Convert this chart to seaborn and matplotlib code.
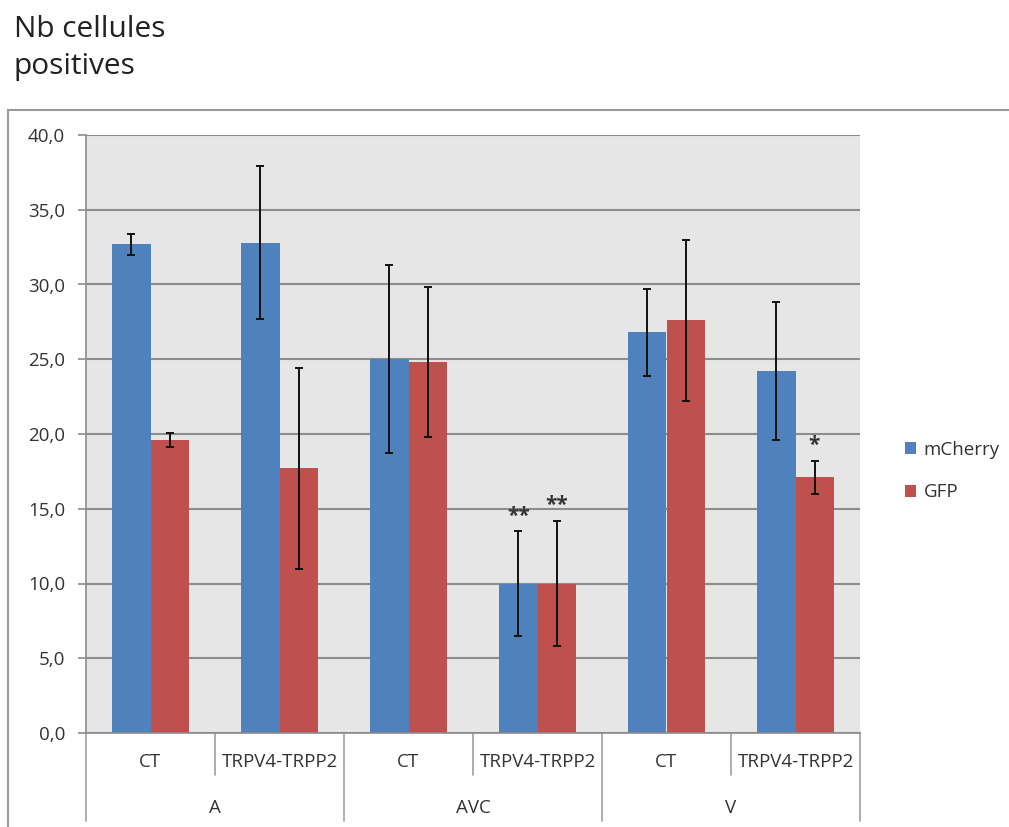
import matplotlib
matplotlib.use("Agg")
import matplotlib.pyplot as plt
import matplotlib.transforms as mtransforms
from matplotlib.patches import Rectangle, Patch
from matplotlib.ticker import FuncFormatter, MultipleLocator
import pandas as pd
import seaborn as sns

# values
groups = ["A", "A", "AVC", "AVC", "V", "V"]
conditions = ["CT", "TRPV4-TRPP2", "CT", "TRPV4-TRPP2", "CT", "TRPV4-TRPP2"]
mcherry_mean = [32.7, 32.8, 25.0, 10.0, 26.8, 24.2]
mcherry_err = [0.7, 5.1, 6.3, 3.5, 2.9, 4.6]
gfp_mean = [19.6, 17.7, 24.8, 10.0, 27.6, 17.1]
gfp_err = [0.5, 6.7, 5.0, 4.2, 5.4, 1.1]
mcherry_sig = ["", "", "", "**", "", ""]
gfp_sig = ["", "", "", "**", "", "*"]
series = ["mCherry", "GFP"]
colors = ["#4F81BD", "#C0504D"]

slots = [f"{g}|{c}" for g, c in zip(groups, conditions)]
df = pd.concat([
    pd.DataFrame({"slot": slots, "marqueur": series[0], "valeur": mcherry_mean,
                  "err": mcherry_err, "sig": mcherry_sig}),
    pd.DataFrame({"slot": slots, "marqueur": series[1], "valeur": gfp_mean,
                  "err": gfp_err, "sig": gfp_sig}),
], ignore_index=True)

sns.set_theme(style="white")
plt.rcParams['font.family'] = ['Open Sans', 'DejaVu Sans']
TXT = "#333333"
FS = 13.5

W, H = 1009, 827
fig = plt.figure(figsize=(W / 100, H / 100), dpi=100)
ax = fig.add_axes([86 / W, 1 - 733 / H, (860 - 86) / W, (733 - 135) / H])
ax.set_facecolor("#e6e6e6")

sns.barplot(data=df, x="slot", y="valeur", hue="marqueur", order=slots,
            hue_order=series, palette=colors, width=0.59, gap=0,
            errorbar=None, saturation=1, linewidth=0, ax=ax, zorder=2)

# error bars and significance marks placed on the bars seaborn drew
for cont, name in zip(ax.containers, series):
    sub = df[df["marqueur"] == name].reset_index(drop=True)
    xs = [b.get_x() + b.get_width() / 2 for b in cont]
    ax.errorbar(xs, sub["valeur"], yerr=sub["err"], fmt="none", ecolor="#111111",
                elinewidth=1.4, capsize=3, capthick=1.4, zorder=3)
    for x, v, e, s in zip(xs, sub["valeur"], sub["err"], sub["sig"]):
        if s:
            ax.text(x, v + e + 0.3, s, ha="center", va="bottom",
                    fontsize=15, fontweight="bold", color=TXT, zorder=4)

ax.set_ylim(0, 40)
ax.set_xlim(-0.5, len(slots) - 0.5)
ax.yaxis.set_major_locator(MultipleLocator(5))
ax.yaxis.set_major_formatter(FuncFormatter(lambda v, _: f"{v:.1f}".replace(".", ",")))
ax.yaxis.grid(True, color="#8c8c8c", linewidth=1.5)
ax.set_axisbelow(True)
ax.tick_params(axis="y", left=True, length=6, width=1.2, color="#8c8c8c",
               labelsize=FS, labelcolor=TXT, pad=9)
ax.tick_params(axis="x", bottom=False, labelbottom=False)
ax.set_xlabel("")
ax.set_ylabel("")
for side in ["top", "right"]:
    ax.spines[side].set_visible(False)
for side in ["left", "bottom"]:
    ax.spines[side].set_color("#8c8c8c")
    ax.spines[side].set_linewidth(1.2)

# two-level category axis
trans = mtransforms.blended_transform_factory(ax.transData, ax.transAxes)
for i, c in enumerate(conditions):
    ax.text(i, -0.049, c, transform=trans, ha="center", va="center",
            fontsize=FS, color=TXT)
for i in range(0, len(slots), 2):
    ax.text(i + 0.5, -0.126, groups[i], transform=trans, ha="center",
            va="center", fontsize=FS, color=TXT)
    ax.plot([i + 0.5, i + 0.5], [0, -0.070], transform=trans, color="#a0a0a0",
            lw=1.2, clip_on=False)
for b in range(-1, len(slots), 2):
    ax.plot([b + 0.5, b + 0.5], [0, -0.147], transform=trans, color="#a0a0a0",
            lw=1.2, clip_on=False)

# legend
handles = [Patch(facecolor=c, edgecolor="none", label=n) for c, n in zip(colors, series)]
if ax.get_legend() is not None:
    ax.get_legend().remove()
fig.legend(handles=handles, loc="center left", bbox_to_anchor=(888 / W, 1 - 471 / H),
           frameon=False, fontsize=FS, handlelength=0.6, handleheight=0.6,
           handletextpad=0.4, labelspacing=1.3, labelcolor=TXT)

# outer chart frame and title
fig.patches.append(Rectangle((8 / W, -0.02), 1.1, 1 - 110 / H + 0.02,
                             transform=fig.transFigure, fill=False,
                             edgecolor="#9a9a9a", lw=1.5))
fig.text(14 / W, 1 - 37 / H, "Nb cellules", fontsize=21.5, color="#222222", va="baseline")
fig.text(14 / W, 1 - 74 / H, "positives", fontsize=21.5, color="#222222", va="baseline")

fig.savefig("out.png", dpi=100)
